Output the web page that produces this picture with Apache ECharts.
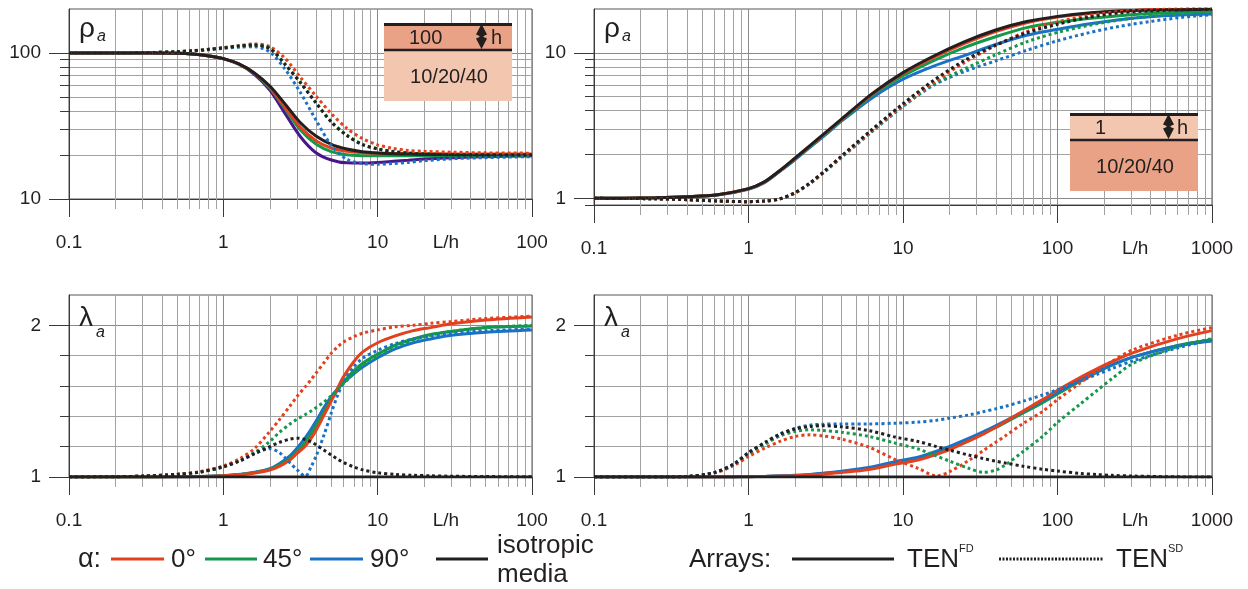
<!DOCTYPE html>
<html><head><meta charset="utf-8">
<script src="https://cdn.jsdelivr.net/npm/echarts@6/dist/echarts.min.js"></script>
<style>html,body{margin:0;padding:0;background:#fff}#c{width:1248px;height:589px}</style>
</head><body><div id="c"></div><script>
// ---------- tick values ----------
const xMajorTL = [0.1, 1, 10, 100];
const xMajorTR = [0.1, 1, 10, 100, 1000];
const xMinorTL = [0.2,0.3,0.4,0.5,0.6,0.7,0.8,0.9,2,3,4,5,6,7,8,9,20,30,40,50,60,70,80,90];
const xMinorTR = xMinorTL.concat([200,300,400,500,600,700,800,900]);
const lhPosTL = 27.7, lhPosTR = 318;
const yMajorTL = [10, 100];
const yMinorTL = [20,30,40,50,60,70,80,90];
const yMajorTR = [1, 10];
const yMinorTR = [0.9,2,3,4,5,6,7,8,9];
const yMajorLam = [1, 2];
const yMinorLam = [1.2, 1.4, 1.6, 1.8];

// ---------- data: top-left (rho_a, 100 over 10/20/40) ----------
const xTL = [0.1,0.2,0.32,0.5,0.63,0.79,1,1.26,1.58,2,2.51,3.16,3.98,5.01,6.31,7.94,10,12.6,15.8,20,31.6,50,100];
const tlIsoFD   = [100,100,99.9,99.5,98.4,95.8,91.4,84.1,73.3,59.4,44.8,33.3,27.0,23.7,22.0,21.1,20.66,20.4,20.3,20.2,20.1,20.05,20];
const tlRedFD   = [100,100,99.9,99.5,98.4,95.8,91.4,84.1,73.1,58.2,42.5,31.0,25.1,22.3,21.2,20.75,20.6,20.5,20.45,20.4,20.35,20.3,20.3];
const tlGreenFD = [100,100,99.9,99.5,98.4,95.8,91.4,84.0,72.9,57.6,41.6,29.7,23.8,21.1,20.1,19.8,19.75,19.75,19.75,19.8,19.8,19.8,19.8];
const tlPurpleFD= [100,100,99.9,99.5,98.4,95.8,91.3,83.8,71.8,55.8,38.6,26.7,20.75,18.5,17.7,17.65,17.8,18.1,18.4,18.8,19.2,19.5,19.8];
const tlRedSD   = [100,100,100.5,102.1,103.7,105.9,108.8,112.2,115.2,110.5,91.9,68.1,50.8,38.4,30.5,26.0,23.5,22.2,21.5,21.2,20.9,20.7,20.6];
const tlGreenSD = [100,100,100.5,102,103.5,105.5,108.3,111.5,113.4,107.7,84.1,63.0,45.9,33.9,27.4,23.8,22.1,21.2,20.66,20.4,20.1,20.0,20.0];
const tlBlueSD  = [100,100,100.4,101.8,103,105,107.5,109.5,110.5,101.6,77.6,53.5,34.8,23.3,18.7,17.5,17.3,17.5,17.8,18.3,18.9,19.2,19.5];
const tlIsoSD   = [100,100,100.5,102,103.5,105.5,108.3,111.5,113.2,107.2,83.5,62.5,45.5,33.6,27.2,23.6,22.0,21.1,20.6,20.3,20.05,20.0,20.0];

// ---------- data: top-right (rho_a, 1 over 10/20/40) ----------
const xTR = [0.1,0.16,0.25,0.4,0.63,1,1.26,1.58,2,2.51,3.16,3.98,6.31,10,15.8,25.1,39.8,63.1,100,158,251,398,631,1000];
const trIsoFD   = [1,1.002,1.01,1.027,1.06,1.166,1.294,1.54,1.89,2.31,2.84,3.49,5.24,7.31,9.51,11.94,14.35,16.4,17.8,18.8,19.35,19.65,19.8,19.9];
const trRedFD   = [1,1.002,1.01,1.027,1.06,1.165,1.292,1.535,1.88,2.3,2.82,3.46,5.18,7.2,9.3,11.6,14.0,16.1,17.6,18.6,19.3,19.7,19.85,19.95];
const trGreenFD = [1,1.002,1.01,1.027,1.059,1.162,1.288,1.53,1.87,2.28,2.79,3.42,5.1,6.95,8.85,10.9,12.9,14.9,16.2,17.2,18.0,18.6,19.0,19.3];
const trBlueFD  = [1,1.002,1.01,1.026,1.056,1.155,1.275,1.52,1.84,2.25,2.74,3.38,4.9,6.58,8.1,9.6,11.4,13.2,14.5,15.8,16.9,17.7,18.2,18.5];
const trIsoSD   = [1,0.998,0.993,0.979,0.959,0.949,0.959,0.989,1.094,1.281,1.566,1.944,2.98,4.47,6.47,8.88,11.3,13.7,15.7,17.5,18.8,19.4,19.75,19.9];
const trRedSD   = [1,0.998,0.993,0.979,0.959,0.949,0.959,0.989,1.09,1.275,1.555,1.93,2.92,4.38,6.25,8.6,11.2,14.0,16.3,18.0,19.2,19.8,20.1,20.3];
const trGreenSD = [1,0.998,0.993,0.979,0.959,0.949,0.959,0.989,1.09,1.272,1.55,1.92,2.9,4.32,6.1,7.75,9.7,11.9,13.8,15.4,16.8,17.8,18.6,19.1];
const trBlueSD  = [1,0.998,0.993,0.979,0.959,0.949,0.959,0.988,1.088,1.268,1.54,1.9,2.88,4.28,6.0,7.45,8.8,10.4,12.1,13.7,15.2,16.4,17.5,18.3];

// ---------- data: bottom-left (lambda_a) ----------
const xBL = [0.1,0.2,0.3,0.5,0.7,1,1.3,1.6,2,2.3,2.7,3,3.4,3.7,4,4.5,5,5.5,6,7,8,10,13,17,22,30,50,100];
const blIsoFD   = [1,1,1,1,1,1,1,1,1,1,1,1,1,1,1,1,1,1,1,1,1,1,1,1,1,1,1,1];
const blRedFD   = [1,1,1,1.001,1.003,1.008,1.016,1.027,1.046,1.07,1.112,1.155,1.205,1.255,1.31,1.41,1.5,1.585,1.66,1.76,1.825,1.885,1.93,1.965,1.985,2.01,2.035,2.055];
const blGreenFD = [1,1,1,1.001,1.003,1.009,1.017,1.029,1.05,1.078,1.123,1.165,1.23,1.285,1.34,1.43,1.51,1.575,1.625,1.7,1.75,1.81,1.87,1.91,1.94,1.96,1.985,1.995];
const blBlueFD  = [1,1,1,1.001,1.003,1.01,1.018,1.031,1.055,1.088,1.14,1.19,1.26,1.315,1.37,1.46,1.53,1.58,1.62,1.68,1.725,1.786,1.845,1.885,1.91,1.935,1.955,1.97];
const blRedSD   = [1,1.002,1.006,1.018,1.035,1.073,1.125,1.19,1.30,1.376,1.468,1.53,1.596,1.642,1.687,1.755,1.815,1.858,1.89,1.925,1.948,1.97,1.99,2.0,2.013,2.025,2.045,2.06];
const blGreenSD = [1,1.002,1.006,1.018,1.033,1.068,1.11,1.162,1.234,1.293,1.349,1.38,1.412,1.435,1.458,1.495,1.535,1.575,1.615,1.683,1.736,1.80,1.86,1.905,1.935,1.96,1.985,2.0];
const blBlueSD  = [1,1.002,1.006,1.017,1.032,1.066,1.11,1.155,1.187,1.162,1.094,1.048,1.005,1.067,1.14,1.28,1.42,1.538,1.623,1.726,1.783,1.835,1.88,1.91,1.93,1.95,1.965,1.975];
const blIsoSD   = [1,1.002,1.006,1.017,1.032,1.068,1.11,1.155,1.20,1.228,1.25,1.256,1.247,1.232,1.212,1.177,1.145,1.118,1.096,1.066,1.047,1.028,1.017,1.011,1.008,1.005,1.003,1.001];

// ---------- data: bottom-right (lambda_a) ----------
const xBR = [0.1,0.2,0.3,0.4,0.6,0.8,1,1.3,1.6,2,2.5,3,4,6,9,12.5,16.5,20,27,33,40,46,60,80,100,140,180,225,310,600,1000];
const brIsoFD   = [1,1,1,1,1,1,1,1,1,1,1,1,1,1,1,1,1,1,1,1,1,1,1,1,1,1,1,1,1,1,1];
const brRedFD   = [1,1,1,1,1,1.0005,1.002,1.004,1.006,1.009,1.013,1.019,1.03,1.05,1.085,1.112,1.15,1.18,1.24,1.283,1.328,1.365,1.435,1.51,1.572,1.656,1.713,1.76,1.82,1.912,1.965];
const brGreenFD = [1,1,1,1,1,1.0005,1.002,1.004,1.007,1.01,1.015,1.022,1.035,1.058,1.098,1.125,1.163,1.193,1.248,1.288,1.328,1.36,1.422,1.49,1.548,1.632,1.69,1.737,1.792,1.868,1.905];
const brBlueFD  = [1,1,1,1,1,1.0005,1.002,1.005,1.008,1.011,1.017,1.024,1.038,1.062,1.103,1.131,1.171,1.202,1.258,1.298,1.339,1.37,1.432,1.502,1.559,1.64,1.696,1.74,1.792,1.865,1.896];
const brRedSD   = [1,1,1,1.002,1.025,1.075,1.135,1.195,1.235,1.267,1.278,1.272,1.25,1.197,1.113,1.057,1.007,1.035,1.113,1.173,1.23,1.272,1.353,1.432,1.51,1.62,1.70,1.762,1.84,1.935,1.985];
const brGreenSD = [1,1,1,1.003,1.028,1.08,1.15,1.22,1.27,1.30,1.311,1.307,1.295,1.268,1.222,1.185,1.138,1.105,1.055,1.031,1.046,1.08,1.168,1.267,1.36,1.48,1.57,1.648,1.75,1.86,1.912];
const brBlueSD  = [1,1,1,1.003,1.029,1.085,1.16,1.232,1.284,1.32,1.342,1.348,1.35,1.35,1.355,1.362,1.374,1.388,1.41,1.43,1.45,1.466,1.50,1.5405,1.5755,1.632,1.676,1.715,1.767,1.851,1.906];
const brIsoSD   = [1,1,1,1.003,1.029,1.085,1.16,1.232,1.282,1.316,1.333,1.338,1.331,1.3065,1.262,1.2345,1.2005,1.177,1.143,1.122,1.104,1.092,1.071,1.051,1.039,1.024,1.016,1.011,1.006,1.001,1.0];

// ---------- styling ----------
const RED = '#E2401E', GREEN = '#14984A', BLUE = '#1A72C6', BLACK = '#231F20', PURPLE = '#4A168C';
const FONT = "'Liberation Sans', Arial, sans-serif";
const TXT = '#231F20';
const GRID_MAJOR = '#8a8a8a', GRID_MINOR = '#a2a2a2', AXIS = '#3a3a3a';

const grids = [
  {left: 69, top: 9, width: 463, height: 190},
  {left: 594, top: 9, width: 618, height: 196},
  {left: 69, top: 295, width: 463, height: 182},
  {left: 594, top: 295, width: 618, height: 182}
].map(g => Object.assign(g, {show: true, borderColor: '#555', borderWidth: 1, backgroundColor: 'transparent', containLabel: false, outerBoundsMode: 'none'}));

function xAxesFor(gi, max, majors, minors, lhPos) {
  const labels = majors.concat([lhPos]);
  return [
    {type: 'log', logBase: 10, gridIndex: gi, min: 0.1, max: max, position: 'bottom',
     axisLine: {show: true, onZero: false, lineStyle: {color: AXIS, width: 1}},
     axisTick: {show: true, length: 18, customValues: majors, lineStyle: {color: AXIS, width: 1}},
     axisLabel: {show: true, customValues: labels, margin: 34, color: TXT, fontSize: 19, fontFamily: FONT,
       formatter: v => (Math.abs(v - lhPos) < lhPos * 0.01 ? 'L/h' : String(+v.toPrecision(6)))},
     splitLine: {show: true, lineStyle: {color: GRID_MAJOR, width: 1}}},
    {type: 'log', logBase: 10, gridIndex: gi, min: 0.1, max: max, position: 'bottom',
     axisLine: {show: false},
     axisTick: {show: true, length: 10, customValues: minors, lineStyle: {color: GRID_MINOR, width: 1}},
     axisLabel: {show: false},
     splitLine: {show: true, lineStyle: {color: GRID_MINOR, width: 1}}}
  ];
}
function yAxesFor(gi, type, min, max, majors, minors) {
  const base = {type: type, gridIndex: gi, min: min, max: max, position: 'left'};
  if (type === 'log') base.logBase = 10;
  return [
    Object.assign({}, base, {
     axisLine: {show: true, onZero: false, lineStyle: {color: AXIS, width: 1}},
     axisTick: {show: true, length: 20, customValues: majors, lineStyle: {color: AXIS, width: 1}},
     axisLabel: {show: true, customValues: majors, margin: 28, color: TXT, fontSize: 19, fontFamily: FONT,
       formatter: v => String(+(+v).toPrecision(6))},
     splitLine: {show: true, lineStyle: {color: GRID_MAJOR, width: 1}}}),
    Object.assign({}, base, {
     axisLine: {show: false},
     axisTick: {show: true, length: 9, customValues: minors, lineStyle: {color: AXIS, width: 1}},
     axisLabel: {show: false},
     splitLine: {show: true, lineStyle: {color: GRID_MINOR, width: 1}}})
  ];
}

const xAxis = [].concat(
  xAxesFor(0, 100, xMajorTL, xMinorTL, lhPosTL),
  xAxesFor(1, 1000, xMajorTR, xMinorTR, lhPosTR),
  xAxesFor(2, 100, xMajorTL, xMinorTL, lhPosTL),
  xAxesFor(3, 1000, xMajorTR, xMinorTR, lhPosTR)
);
const yAxis = [].concat(
  yAxesFor(0, 'log', 10, 200, yMajorTL, yMinorTL),
  yAxesFor(1, 'log', 0.9, 20, yMajorTR, yMinorTR),
  yAxesFor(2, 'value', 1, 2.2, yMajorLam, yMinorLam),
  yAxesFor(3, 'value', 1, 2.2, yMajorLam, yMinorLam)
);

function line(gi, xs, ys, color, dotted, z) {
  return {
    type: 'line', xAxisIndex: 2 * gi, yAxisIndex: 2 * gi,
    data: xs.map((x, i) => [x, ys[i]]),
    showSymbol: false, symbol: 'none', smooth: 0.3, clip: true, z: z,
    lineStyle: {color: color, width: 3, type: dotted ? [3, 3] : 'solid', cap: 'butt'},
    silent: true, animation: false
  };
}

const series = [
  // top-left
  line(0, xTL, tlPurpleFD, PURPLE, false, 2),
  line(0, xTL, tlGreenFD, GREEN, false, 3),
  line(0, xTL, tlRedFD, RED, false, 4),
  line(0, xTL, tlIsoFD, BLACK, false, 5),
  line(0, xTL, tlBlueSD, BLUE, true, 6),
  line(0, xTL, tlRedSD, RED, true, 6),
  line(0, xTL, tlGreenSD, GREEN, true, 7),
  line(0, xTL, tlIsoSD, BLACK, true, 8),
  // top-right
  line(1, xTR, trBlueFD, BLUE, false, 2),
  line(1, xTR, trGreenFD, GREEN, false, 3),
  line(1, xTR, trRedFD, RED, false, 4),
  line(1, xTR, trIsoFD, BLACK, false, 5),
  line(1, xTR, trBlueSD, BLUE, true, 6),
  line(1, xTR, trGreenSD, GREEN, true, 6),
  line(1, xTR, trRedSD, RED, true, 7),
  line(1, xTR, trIsoSD, BLACK, true, 8),
  // bottom-left
  line(2, xBL, blBlueFD, BLUE, false, 2),
  line(2, xBL, blGreenFD, GREEN, false, 3),
  line(2, xBL, blRedFD, RED, false, 4),
  line(2, xBL, blBlueSD, BLUE, true, 6),
  line(2, xBL, blGreenSD, GREEN, true, 6),
  line(2, xBL, blRedSD, RED, true, 7),
  line(2, xBL, blIsoSD, BLACK, true, 8),
  line(2, xBL, blIsoFD, BLACK, false, 9),
  // bottom-right
  line(3, xBR, brGreenFD, GREEN, false, 2),
  line(3, xBR, brBlueFD, BLUE, false, 3),
  line(3, xBR, brRedFD, RED, false, 4),
  line(3, xBR, brGreenSD, GREEN, true, 6),
  line(3, xBR, brRedSD, RED, true, 6),
  line(3, xBR, brBlueSD, BLUE, true, 7),
  line(3, xBR, brIsoSD, BLACK, true, 8),
  line(3, xBR, brIsoFD, BLACK, false, 9)
];

// ---------- graphic overlays ----------
const DARK_SAL = '#E9A285', LIGHT_SAL = '#F3C7AF';
function txt(x, y, s, size, opts) {
  return {type: 'text', x: x, y: y, z: 100,
    style: Object.assign({text: s, fontSize: size, fontFamily: FONT, fill: TXT, align: 'left', verticalAlign: 'middle'}, opts || {})};
}
function hline(x1, x2, y, w, dash) {
  return {type: 'line', z: 100, shape: {x1: x1, y1: y, x2: x2, y2: y},
    style: {stroke: BLACK, lineWidth: w, lineDash: dash || null}};
}
function colLine(x1, x2, y, color) {
  return {type: 'line', z: 100, shape: {x1: x1, y1: y, x2: x2, y2: y}, style: {stroke: color, lineWidth: 3}};
}
function dblArrow(cx, top, bot) {
  const mid = (top + bot) / 2;
  return {type: 'polygon', z: 102, shape: {points: [
    [cx, top], [cx + 5.5, mid - 2], [cx + 2, mid - 0.5], [cx + 2, mid + 0.5], [cx + 5.5, mid + 2], [cx, bot],
    [cx - 5.5, mid + 2], [cx - 2, mid + 0.5], [cx - 2, mid - 0.5], [cx - 5.5, mid - 2]]},
    style: {fill: BLACK}};
}

const graphic = [
  // panel labels
  txt(79, 29, 'ρ', 28), txt(97, 37, 'a', 16, {fontStyle: 'italic'}),
  txt(604, 29, 'ρ', 28), txt(622, 37, 'a', 16, {fontStyle: 'italic'}),
  txt(79, 318, 'λ', 28), txt(96, 333, 'a', 16, {fontStyle: 'italic'}),
  txt(604, 318, 'λ', 28), txt(621, 333, 'a', 16, {fontStyle: 'italic'}),
  // inset TL: 100 over 10/20/40
  {type: 'rect', z: 99, shape: {x: 384, y: 24, width: 128, height: 26}, style: {fill: DARK_SAL}},
  {type: 'rect', z: 99, shape: {x: 384, y: 50, width: 128, height: 51}, style: {fill: LIGHT_SAL}},
  hline(384, 512, 24.5, 3), hline(384, 512, 50, 2.5),
  txt(409, 38, '100', 20), txt(491, 38, 'h', 20), dblArrow(481.5, 24, 49),
  txt(449, 77, '10/20/40', 20, {align: 'center'}),
  // inset TR: 1 over 10/20/40
  {type: 'rect', z: 99, shape: {x: 1070, y: 114, width: 128, height: 26}, style: {fill: LIGHT_SAL}},
  {type: 'rect', z: 99, shape: {x: 1070, y: 140, width: 128, height: 51}, style: {fill: DARK_SAL}},
  hline(1070, 1198, 114.5, 3), hline(1070, 1198, 140, 2.5),
  txt(1095, 128, '1', 20), txt(1177, 128, 'h', 20), dblArrow(1168.5, 114, 139),
  txt(1135, 167, '10/20/40', 20, {align: 'center'}),
  // legend
  txt(78, 560, 'α:', 27),
  colLine(111, 164, 559, RED), txt(171, 560, '0°', 26),
  colLine(205, 257, 559, GREEN), txt(263, 560, '45°', 26),
  colLine(310, 363, 559, BLUE), txt(370, 560, '90°', 26),
  colLine(436, 488, 559, BLACK),
  txt(497, 546, 'isotropic', 26), txt(497, 575, 'media', 26),
  txt(689, 560, 'Arrays:', 26),
  hline(792, 894, 559, 3),
  txt(907, 560, 'TEN', 26), txt(959, 549, 'FD', 11),
  hline(999, 1104, 559, 3, [2, 1.5]),
  txt(1116, 560, 'TEN', 26), txt(1168, 549, 'SD', 11)
];

const chart = echarts.init(document.getElementById('c'), null, {renderer: 'canvas', width: 1248, height: 589});
chart.setOption({
  backgroundColor: '#fff',
  animation: false,
  grid: grids,
  xAxis: xAxis,
  yAxis: yAxis,
  series: series,
  graphic: {elements: graphic}
});
</script></body></html>
